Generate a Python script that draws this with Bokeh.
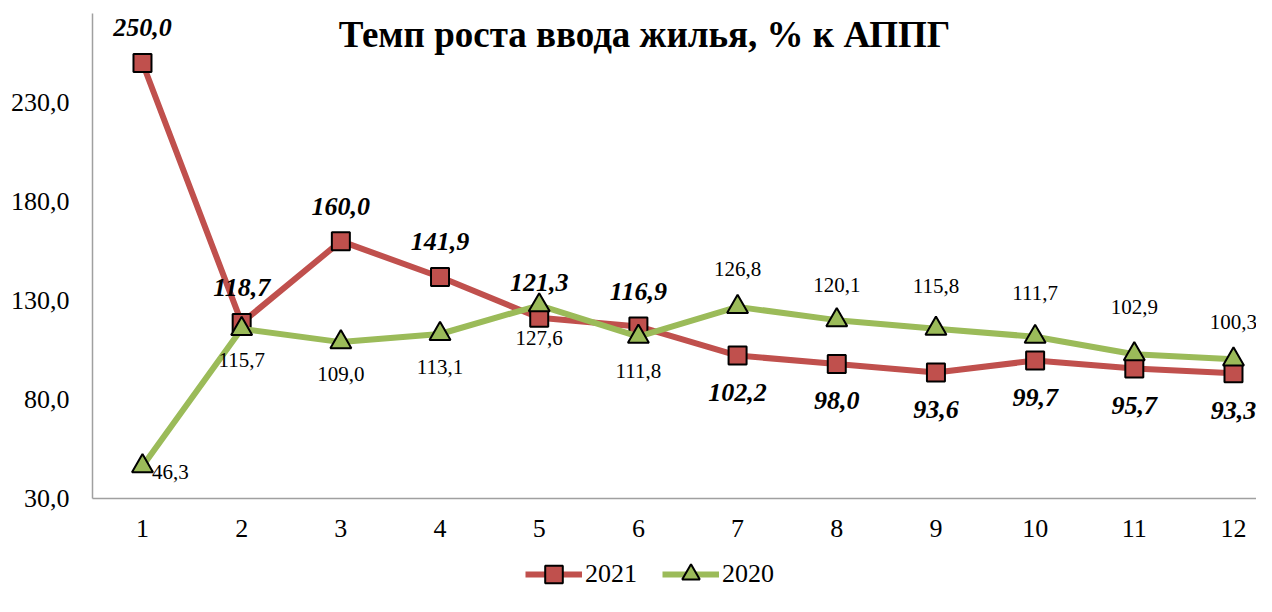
from bokeh.plotting import figure
from bokeh.layouts import column
from bokeh.models import (ColumnDataSource, LabelSet, Label, Legend, LegendItem,
                          FixedTicker, Range1d, CustomJSTickFormatter)
from bokeh.embed import file_html
from bokeh.resources import INLINE

# ---- data ----
months = [1, 2, 3, 4, 5, 6, 7, 8, 9, 10, 11, 12]
values_2021 = [250.0, 118.7, 160.0, 141.9, 121.3, 116.9, 102.2, 98.0, 93.6, 99.7, 95.7, 93.3]
values_2020 = [46.3, 115.7, 109.0, 113.1, 127.6, 111.8, 126.8, 120.1, 115.8, 111.7, 102.9, 100.3]
series_names = ["2021", "2020"]
y_ticks = [30, 80, 130, 180, 230]
title_text = "Темп роста ввода жилья, % к АППГ"

# ---- label placement (style) ----
pos_2021 = ["above"] * 6 + ["below"] * 6
dy_2021 = [35 if p == "above" else -37 for p in pos_2021]
dy_2020 = [-6, -31, -32, -33, -33, -34, 38, 35, 43, 44, 47, 37]
dx_2020 = [28, 0, 0, 0, 0, 0, 0, 0, 0, 0, 0, 0]

def fmt(v):
    return f"{v:.1f}".replace(".", ",")

RED = "#C0504D"
GREEN = "#9BBB59"
FONT = "Liberation Serif"
W = 1256
H_MAIN = 552
H_LEG = 44

src21 = ColumnDataSource(dict(x=months, y=values_2021,
                              t=[fmt(v) for v in values_2021], dy=dy_2021))
src20 = ColumnDataSource(dict(x=months, y=values_2020,
                              t=[fmt(v) for v in values_2020], dy=dy_2020, dx=dx_2020))

p = figure(width=W, height=H_MAIN, output_backend="svg", toolbar_location=None,
           x_range=Range1d(0.496, 12.232), y_range=Range1d(30, 275),
           min_border_left=92, min_border_right=0, min_border_top=13,
           min_border_bottom=H_MAIN - 498)
p.outline_line_color = None
p.grid.visible = False
p.background_fill_color = "white"

# axes
for ax in (p.xaxis[0], p.yaxis[0]):
    ax.axis_line_color = "#A0A0A0"
    ax.axis_line_width = 1.5
    ax.major_tick_line_color = None
    ax.minor_tick_line_color = None
    ax.major_label_text_font = FONT
    ax.major_label_text_font_size = "26px"
    ax.major_label_text_color = "black"
p.xaxis.ticker = FixedTicker(ticks=months)
p.yaxis.ticker = FixedTicker(ticks=y_ticks)
p.yaxis.formatter = CustomJSTickFormatter(code="return tick.toFixed(1).replace('.', ',');")
p.yaxis.major_label_standoff = 17
p.xaxis.major_label_standoff = 15

# series
p.line("x", "y", source=src21, line_color=RED, line_width=6)
p.scatter("x", "y", source=src21, marker="square", size=18,
          fill_color=RED, line_color="black", line_width=2)
p.line("x", "y", source=src20, line_color=GREEN, line_width=6)
p.scatter("x", "y", source=src20, marker="triangle", size=21,
          fill_color=GREEN, line_color="black", line_width=2)

# data labels
p.add_layout(LabelSet(x="x", y="y", text="t", source=src21, y_offset="dy",
                      text_align="center", text_baseline="middle",
                      text_font=FONT, text_font_size="26px",
                      text_font_style="bold italic", text_color="black"))
p.add_layout(LabelSet(x="x", y="y", text="t", source=src20, y_offset="dy", x_offset="dx",
                      text_align="center", text_baseline="middle",
                      text_font=FONT, text_font_size="21px", text_color="black"))

# title
p.add_layout(Label(x=552, y=485, x_units="screen", y_units="screen", text=title_text,
                   text_align="center", text_baseline="top",
                   text_font=FONT, text_font_size="37px", text_font_style="bold",
                   text_color="black"))

# ---- legend strip (separate small figure under the chart; its frame aligns with the chart's) ----
lg = figure(width=W, height=H_LEG, output_backend="svg", toolbar_location=None,
            x_range=Range1d(-2, -1), y_range=Range1d(-2, -1),
            x_axis_location=None, y_axis_location=None,
            min_border_left=0, min_border_right=0, min_border_top=0, min_border_bottom=0)
lg.outline_line_color = None
lg.grid.visible = False
# same series drawn out of view: only their legend glyphs show
k1 = lg.line("x", "y", source=src21, line_color=RED, line_width=6)
s1 = lg.scatter("x", "y", source=src21, marker="square",
                fill_color=RED, line_color="black", line_width=2)
k2 = lg.line("x", "y", source=src20, line_color=GREEN, line_width=6)
s2 = lg.scatter("x", "y", source=src20, marker="triangle",
                fill_color=GREEN, line_color="black", line_width=2)
legend = Legend(items=[LegendItem(label=series_names[0], renderers=[k1, s1]),
                       LegendItem(label=series_names[1], renderers=[k2, s2])],
                location=(433, 0), orientation="horizontal",
                glyph_width=57, glyph_height=H_LEG, label_standoff=3, spacing=25,
                padding=0, margin=0, border_line_color=None, background_fill_alpha=0,
                label_text_font=FONT, label_text_font_size="26px",
                label_text_color="black", label_height=H_LEG)
lg.add_layout(legend, "center")

layout = column(p, lg, spacing=0)
open("out.html", "w").write(file_html(layout, INLINE))
